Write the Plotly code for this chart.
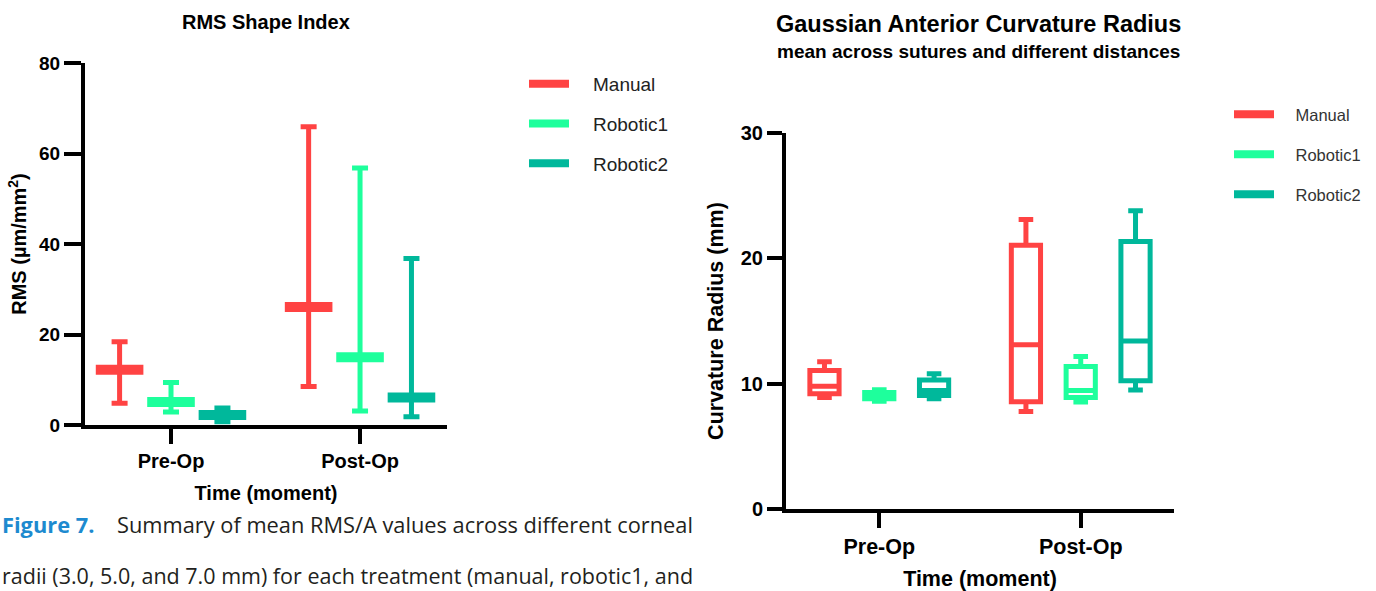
import plotly.graph_objects as go

# ---------------- data ----------------
groups = ["Manual", "Robotic1", "Robotic2"]
colors = ["#FF4343", "#1EFF9C", "#00B89B"]
moments = ["Pre-Op", "Post-Op"]
group_offsets = [-0.272, 0.0, 0.272]

# Left chart: RMS Shape Index (mean with min/max whiskers)
rms_mean = {"Manual": [12.2, 26.1], "Robotic1": [5.1, 15.0], "Robotic2": [2.2, 6.1]}
rms_low = {"Manual": [4.8, 8.5], "Robotic1": [2.9, 3.1], "Robotic2": [0.7, 1.85]}
rms_high = {"Manual": [18.4, 65.9], "Robotic1": [9.4, 56.8], "Robotic2": [3.75, 36.8]}
rms_ticks = [0, 20, 40, 60, 80]

# Right chart: Gaussian Anterior Curvature Radius (box plots)
cr_low = {"Manual": [8.9, 7.77], "Robotic1": [8.6, 8.54], "Robotic2": [8.8, 9.5]}
cr_q1 = {"Manual": [9.2, 8.56], "Robotic1": [8.8, 8.9], "Robotic2": [9.05, 10.24]}
cr_med = {"Manual": [9.8, 13.1], "Robotic1": [9.0, 9.45], "Robotic2": [9.45, 13.4]}
cr_q3 = {"Manual": [11.05, 21.05], "Robotic1": [9.3, 11.36], "Robotic2": [10.3, 21.35]}
cr_high = {"Manual": [11.75, 23.1], "Robotic1": [9.52, 12.16], "Robotic2": [10.8, 23.8]}
cr_ticks = [0, 10, 20, 30]

W, H = 1376, 591
font_family = "Liberation Sans, Arial, sans-serif"
GAP = "\u2002\u2002"  # spacing between legend swatch and label

fig = go.Figure()

# ---------- left chart ----------
for g, c, off in zip(groups, colors, group_offsets):
    xs = [i + off for i in range(len(moments))]
    m = rms_mean[g]
    fig.add_trace(go.Scatter(
        x=xs, y=m, mode="markers", xaxis="x", yaxis="y",
        marker=dict(symbol="line-ew", size=34, color=c, line=dict(color=c, width=10)),
        error_y=dict(type="data", symmetric=False,
                     array=[h - v for h, v in zip(rms_high[g], m)],
                     arrayminus=[v - l for l, v in zip(rms_low[g], m)],
                     color=c, thickness=5, width=8),
        cliponaxis=False, showlegend=False, hoverinfo="skip",
    ))
    fig.add_trace(go.Scatter(
        x=[None], y=[None], mode="lines", xaxis="x", yaxis="y",
        line=dict(color=c, width=8), name=GAP + g, legend="legend",
        legendgroup="L" + g, showlegend=True,
    ))

# ---------- right chart ----------
for g, c, off in zip(groups, colors, group_offsets):
    xs = [i + off for i in range(len(moments))]
    fig.add_trace(go.Box(
        x=xs, q1=cr_q1[g], median=cr_med[g], q3=cr_q3[g],
        lowerfence=cr_low[g], upperfence=cr_high[g],
        xaxis="x2", yaxis="y2", width=0.145, whiskerwidth=0.5,
        line=dict(color=c, width=5), fillcolor="white",
        boxpoints=False, showlegend=False, hoverinfo="skip",
    ))
    fig.add_trace(go.Scatter(
        x=[None], y=[None], mode="lines", xaxis="x2", yaxis="y2",
        line=dict(color=c, width=8), name=GAP + g, legend="legend2",
        legendgroup="R" + g, showlegend=True,
    ))

axis_common = dict(showline=True, linecolor="black", linewidth=4, ticks="outside",
                   tickcolor="black", tickwidth=4, showgrid=False, zeroline=False,
                   automargin=False)

def tf(size):
    return dict(family=font_family, size=size, color="black", weight="bold")

def px_x(p):
    return p / W

def px_y(p):
    return 1 - p / H

fig.update_layout(
    template="none",
    width=W, height=H, margin=dict(l=0, r=0, t=0, b=0, pad=0, autoexpand=False),
    paper_bgcolor="white", plot_bgcolor="white",
    font=dict(family=font_family, color="black"),
    boxmode="overlay",
    xaxis=dict(domain=[px_x(85), px_x(447)], range=[-0.455, 1.46],
               tickvals=list(range(len(moments))), ticktext=moments, ticklen=15,
               tickfont=tf(20),
               title=dict(text="Time (moment)", standoff=16, font=tf(20)),
               anchor="y", **axis_common),
    yaxis=dict(domain=[px_y(425), px_y(63)], range=[0, 80], tickvals=rms_ticks, ticklen=17,
               tickfont=tf(19),
               title=dict(text="RMS (µm/mm<sup>2</sup>)", standoff=8, font=tf(20)),
               anchor="x", **axis_common),
    xaxis2=dict(domain=[px_x(786), px_x(1174)], range=[-0.463, 1.463],
                tickvals=list(range(len(moments))), ticktext=moments, ticklen=15,
                tickfont=tf(21.5),
                title=dict(text="Time (moment)", standoff=16, font=tf(21.5)),
                anchor="y2", **axis_common),
    yaxis2=dict(domain=[px_y(509), px_y(133)], range=[0, 30], tickvals=cr_ticks, ticklen=15,
                tickfont=tf(20),
                title=dict(text="Curvature Radius (mm)", standoff=12, font=tf(21.5)),
                anchor="x2", **axis_common),
    legend=dict(x=px_x(524), y=px_y(65), xanchor="left", yanchor="top",
                itemwidth=40, traceorder="grouped", tracegroupgap=12,
                font=dict(family=font_family, size=19, color="#222"),
                bgcolor="rgba(0,0,0,0)"),
    legend2=dict(x=px_x(1229), y=px_y(97), xanchor="left", yanchor="top",
                 itemwidth=40, traceorder="grouped", tracegroupgap=15.5,
                 font=dict(family=font_family, size=16.5, color="#333"),
                 bgcolor="rgba(0,0,0,0)"),
    annotations=[
        dict(text="<b>RMS Shape Index</b>", x=px_x(266), y=px_y(22), xref="paper", yref="paper",
             showarrow=False, xanchor="center", yanchor="middle",
             font=dict(family=font_family, size=20, color="black")),
        dict(text="<b>Gaussian Anterior Curvature Radius</b>", x=px_x(978), y=px_y(24),
             xref="paper", yref="paper", showarrow=False, xanchor="center", yanchor="middle",
             font=dict(family=font_family, size=23.5, color="black")),
        dict(text="<b>mean across sutures and different distances</b>", x=px_x(978), y=px_y(51),
             xref="paper", yref="paper", showarrow=False, xanchor="center", yanchor="middle",
             font=dict(family=font_family, size=19, color="black")),
        dict(text="<b><span style='color:#1D8ACF'>Figure 7.</span></b>" + "\u00a0" * 4
             + "Summary of mean RMS/A values across different corneal",
             x=0, y=px_y(524), xref="paper", yref="paper", showarrow=False,
             xanchor="left", yanchor="middle",
             font=dict(family="Open Sans, sans-serif", size=21.8, color="#231F20")),
        dict(text="radii (3.0, 5.0, and 7.0 mm) for each treatment (manual, robotic1, and",
             x=0, y=px_y(575), xref="paper", yref="paper", showarrow=False,
             xanchor="left", yanchor="middle",
             font=dict(family="Open Sans, sans-serif", size=21.5, color="#231F20")),
    ],
)

fig.write_html("out.html")
